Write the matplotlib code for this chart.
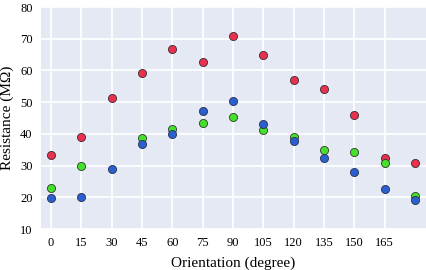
import matplotlib.pyplot as plt
import numpy as np

# --- DATA
orientation = [0, 15, 30, 45, 60, 75, 90, 105, 120, 135, 150, 165, 180]
red_vals = [33.3, 39.1, 51.2, 59.3, 66.9, 62.8, 70.8, 65.0, 57.0, 54.2, 46.0, 32.4, 30.8]
green_x = [0, 15, 45, 60, 75, 90, 105, 120, 135, 150, 165, 180]
green_vals = [22.9, 30.0, 38.8, 41.4, 43.3, 45.2, 41.1, 39.1, 34.9, 34.2, 30.9, 20.4]
blue_vals = [19.7, 20.0, 29.0, 36.9, 40.1, 47.1, 50.4, 43.2, 37.6, 32.4, 28.1, 22.7, 19.0]
xticks = [0, 15, 30, 45, 60, 75, 90, 105, 120, 135, 150, 165]
yticks = [10, 20, 30, 40, 50, 60, 70, 80]

plt.rcParams['font.family'] = ['Liberation Serif', 'DejaVu Serif']

fig = plt.figure(figsize=(4.27, 2.70), dpi=100)
ax = fig.add_axes([41/427, 1 - 229/270, 385/427, 222/270])
ax.set_facecolor('#e5e9f4')

# --- SCATTER
ax.scatter(orientation, red_vals, s=34, color='#e8314f', edgecolor='#3a2a30', linewidth=0.6, zorder=3)
ax.scatter(green_x, green_vals, s=34, color='#45e02b', edgecolor='#2d3a2a', linewidth=0.6, zorder=3)
ax.scatter(orientation, blue_vals, s=34, color='#2b5fcf', edgecolor='#26304a', linewidth=0.6, zorder=4)

# --- AXES
ax.set_xlim(-5, 185.5)
ax.set_ylim(10, 80)
ax.set_xticks(xticks)
ax.set_yticks(yticks)
ax.grid(True, color='white', linewidth=1.2, zorder=0)
ax.set_axisbelow(True)
for sp in ax.spines.values():
    sp.set_visible(False)
ax.tick_params(length=0, labelsize=9, pad=6)
ax.set_xlabel('Orientation (degree)', fontsize=11, labelpad=5)
ax.set_ylabel('Resistance (M\u03a9)', fontsize=11, labelpad=4)

fig.savefig('out.png', dpi=100)
